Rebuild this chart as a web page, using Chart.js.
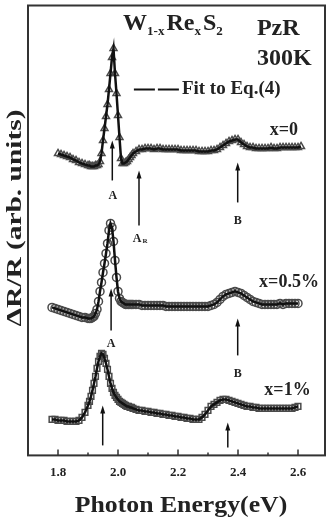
<!DOCTYPE html>
<html>
<head>
<meta charset="utf-8">
<script src="https://cdn.jsdelivr.net/npm/chart.js@4.4.1/dist/chart.umd.min.js"></script>
<style>
  body { margin: 0; background: #fff; }
  #wrap { width: 333px; height: 522px; }
</style>
</head>
<body>
<div id="wrap"><canvas id="myChart" width="333" height="522"></canvas></div>
<script>
// photon energy (eV)
var energy = [1.78, 1.79, 1.80, 1.81, 1.82, 1.83, 1.84, 1.85, 1.86, 1.87, 1.88, 1.89,
  1.90, 1.905, 1.91, 1.915, 1.92, 1.925, 1.93, 1.935, 1.94, 1.945,
  1.95, 1.955, 1.96, 1.965, 1.97, 1.975, 1.98, 1.985, 1.99, 1.995,
  2.00, 2.005, 2.01, 2.015, 2.02, 2.025, 2.03, 2.035, 2.04, 2.045, 2.05,
  2.06, 2.07, 2.08, 2.09, 2.10, 2.11, 2.12, 2.13, 2.14, 2.15,
  2.16, 2.17, 2.18, 2.19, 2.20, 2.21, 2.22, 2.23, 2.24, 2.25,
  2.26, 2.27, 2.28, 2.29, 2.30, 2.31, 2.32, 2.33, 2.34, 2.35,
  2.36, 2.37, 2.38, 2.39, 2.40, 2.41, 2.42, 2.43, 2.44, 2.45,
  2.46, 2.47, 2.48, 2.49, 2.50, 2.51, 2.52, 2.53, 2.54, 2.55,
  2.56, 2.57, 2.58, 2.59, 2.60, 2.61];

// dR/R (arb. units, stacked) for x=0, x=0.5%, x=1%
var x0 = [null, null, 304, 303, 302, 301, 300, 298, 297, 295, 294, 293,
  292, 292, 291, 291, 291, 292, 292, 293, 296, 304,
  317, 329, 341, 353, 368, 384, 400, 409, 384, 364,
  342, 320, 299, 294, 294, 295, 296, 298, 300, 302, 304,
  306, 308, 308, 309, 309, 309, 308, 309, 309, 308,
  308, 308, 308, 308, 308, 307, 307, 307, 307, 307,
  307, 306, 306, 306, 306, 307, 307, 308, 310, 312,
  314, 316, 317, 318, 318, 315, 313, 311, 310, 310,
  309, 309, 309, 309, 309, 310, 309, 309, 310, 310,
  310, 310, 310, 310, 310, 311];

var x05 = [150, 149, 148, 147, 146, 145, 144, 143, 142, 141, 140, 140,
  139, 139, 139, 140, 141, 144, 148, 156, 166, 175,
  185, 194, 204, 214, 227, 234, 230, 216, 197, 180,
  166, 159, 156, 155, 154, 153, 153, 153, 153, 153, 153,
  153, 153, 152, 152, 152, 152, 152, 152, 152, 152,
  151, 151, 151, 151, 151, 151, 151, 151, 151, 151,
  151, 151, 151, 151, 151, 152, 153, 155, 158, 161,
  163, 164, 165, 166, 165, 164, 162, 160, 158, 156,
  155, 154, 153, 153, 153, 153, 153, 153, 154, 153,
  154, 154, 154, 154, 154, null];

var x1 = [38, 38, 37, 37, 37, 36, 36, 36, 36, 37, 40, 45,
  52, 56, 61, 67, 74, 81, 89, 96, 101, 104,
  103, 99, 94, 88, 81, 74, 69, 65, 62, 60,
  58, 56, 55, 54, 53, 52, 51, 51, 50, 50, 49,
  48, 47, 47, 46, 46, 45, 45, 44, 44, 43,
  43, 42, 42, 41, 41, 40, 40, 39, 39, 38,
  38, 38, 40, 43, 47, 51, 53, 55, 57, 58,
  58, 57, 56, 55, 54, 53, 52, 51, 51, 50,
  50, 49, 49, 49, 49, 49, 49, 49, 49, 49,
  49, 49, 49, 50, 51, null];

var xTicks = [1.8, 2.0, 2.2, 2.4, 2.6];
var xMinorTicks = [1.9, 2.1, 2.3, 2.5];

// arrows: [energy, from, to]
var arrows = [[1.981, 277, 317], [2.07, 232, 287], [2.399, 255, 295],
  [1.977, 127, 169], [2.399, 102, 139],
  [1.949, 12, 52], [2.366, 10, 35]];
// peak labels: [text, subscript, energy, value]
var peakLabels = [['A', '', 1.983, 262], ['A', 'R', 2.07, 219], ['B', '', 2.399, 237],
  ['A', '', 1.977, 114], ['B', '', 2.399, 84]];
var curveLabels = [['x=0', 2.553, 322], ['x=0.5%', 2.57, 170], ['x=1%', 2.565, 62]];

var serif = '"Liberation Serif", "Times New Roman", serif';

function pts(vals) {
    var out = [];
    for (var i = 0; i < energy.length; i++) {
        out.push({x: energy[i], y: vals[i]});
    }
    return out;
}

// draws text stretched along its baseline
function stretchText(ctx, txt, x, y, sx, rot) {
    ctx.save();
    ctx.translate(x, y);
    if (rot) ctx.rotate(rot);
    ctx.scale(sx, 1);
    ctx.fillText(txt, 0, 0);
    ctx.restore();
}

var overlay = {
    id: 'overlay',
    afterDatasetsDraw: function(chart) {
        var ctx = chart.ctx, a = chart.chartArea;
        var xs = chart.scales.x, ys = chart.scales.y;
        ctx.save();
        // frame
        ctx.strokeStyle = '#333';
        ctx.lineWidth = 2;
        ctx.strokeRect(a.left, a.top, a.right - a.left, a.bottom - a.top);
        // inward ticks
        ctx.lineWidth = 1.5;
        ctx.beginPath();
        xTicks.forEach(function(t) {
            var px = xs.getPixelForValue(t);
            ctx.moveTo(px, a.bottom); ctx.lineTo(px, a.bottom - 6);
        });
        xMinorTicks.forEach(function(t) {
            var px = xs.getPixelForValue(t);
            ctx.moveTo(px, a.bottom); ctx.lineTo(px, a.bottom - 3);
        });
        ctx.stroke();

        // arrows
        ctx.strokeStyle = '#111';
        ctx.fillStyle = '#111';
        ctx.lineWidth = 1.5;
        arrows.forEach(function(ar) {
            var px = xs.getPixelForValue(ar[0]);
            var y1 = ys.getPixelForValue(ar[1]), y2 = ys.getPixelForValue(ar[2]);
            ctx.beginPath();
            ctx.moveTo(px, y1); ctx.lineTo(px, y2 + 6);
            ctx.stroke();
            ctx.beginPath();
            ctx.moveTo(px, y2); ctx.lineTo(px - 2.5, y2 + 8); ctx.lineTo(px + 2.5, y2 + 8);
            ctx.closePath();
            ctx.fill();
        });

        ctx.fillStyle = '#222';
        ctx.textBaseline = 'middle';
        ctx.textAlign = 'center';
        peakLabels.forEach(function(l) {
            var px = xs.getPixelForValue(l[2]), py = ys.getPixelForValue(l[3]);
            ctx.font = 'bold 12px ' + serif;
            if (l[1]) {
                ctx.fillText(l[0], px - 2, py);
                ctx.font = 'bold 7px ' + serif;
                ctx.fillText(l[1], px + 6, py + 3);
            } else {
                ctx.fillText(l[0], px, py);
            }
        });

        ctx.textBaseline = 'alphabetic';
        ctx.font = 'bold 18px ' + serif;
        curveLabels.forEach(function(l) {
            ctx.fillText(l[0], xs.getPixelForValue(l[1]), ys.getPixelForValue(l[2]));
        });

        // title W1-xRexS2
        ctx.textAlign = 'left';
        var tx = xs.getPixelForValue(2.017), ty = ys.getPixelForValue(427);
        var parts = [['W', 0], ['1-x', 1], ['Re', 0], ['x', 1], ['S', 0], ['2', 1]];
        parts.forEach(function(p) {
            ctx.font = p[1] ? 'bold 13px ' + serif : 'bold 24px ' + serif;
            ctx.fillText(p[0], tx, ty + (p[1] ? 5 : 0));
            tx += ctx.measureText(p[0]).width + (p[1] ? 2 : 0);
        });
        ctx.font = 'bold 24px ' + serif;
        ctx.fillText('PzR', xs.getPixelForValue(2.463), ys.getPixelForValue(422));
        ctx.fillText('300K', xs.getPixelForValue(2.463), ys.getPixelForValue(392));

        // legend
        var ly = ys.getPixelForValue(368);
        ctx.strokeStyle = '#111';
        ctx.lineWidth = 2;
        ctx.setLineDash([21, 3]);
        ctx.beginPath();
        ctx.moveTo(xs.getPixelForValue(2.053), ly);
        ctx.lineTo(xs.getPixelForValue(2.207), ly);
        ctx.stroke();
        ctx.setLineDash([]);
        ctx.font = 'bold 19px ' + serif;
        ctx.textBaseline = 'middle';
        ctx.fillText('Fit to Eq.(4)', xs.getPixelForValue(2.213), ly);

        // axis titles
        ctx.textAlign = 'center';
        ctx.textBaseline = 'alphabetic';
        ctx.font = 'bold 23px ' + serif;
        stretchText(ctx, 'Photon Energy(eV)', 181, 512, 1.12, 0);
        ctx.textBaseline = 'middle';
        ctx.font = 'bold 21px ' + serif;
        stretchText(ctx, 'ΔR/R (arb. units)', 16, 218, 1.4, -Math.PI / 2);
        ctx.restore();
    }
};

var markerStyle = {
    showLine: false,
    pointRadius: 4,
    pointBorderWidth: 1.5,
    pointBorderColor: '#4a4a4a',
    pointBackgroundColor: 'rgba(255,255,255,0)',
    order: 2
};
var fitStyle = {
    showLine: true,
    pointRadius: 0,
    borderColor: '#111',
    borderWidth: 2.5,
    tension: 0,
    spanGaps: false,
    order: 1
};

var ctx = document.getElementById("myChart").getContext("2d");
var chart = new Chart(ctx, {
    type: 'scatter',
    data: {
        datasets: [
            Object.assign({label: 'x=0', data: pts(x0), pointStyle: 'triangle'}, markerStyle),
            Object.assign({label: 'x=0.5%', data: pts(x05), pointStyle: 'circle'}, markerStyle),
            Object.assign({label: 'x=1%', data: pts(x1), pointStyle: 'rect'}, markerStyle),
            Object.assign({label: 'fit x=0', data: pts(x0)}, fitStyle),
            Object.assign({label: 'fit x=0.5%', data: pts(x05)}, fitStyle),
            Object.assign({label: 'fit x=1%', data: pts(x1)}, fitStyle)
        ]
    },
    options: {
        responsive: false,
        animation: false,
        devicePixelRatio: 1,
        layout: {padding: {left: 28, top: 5, right: 8, bottom: 33}},
        plugins: {legend: {display: false}, tooltip: {enabled: false}},
        scales: {
            x: {
                type: 'linear',
                min: 1.70,
                max: 2.69,
                afterBuildTicks: function(s) {
                    s.ticks = xTicks.map(function(v) { return {value: v}; });
                },
                grid: {display: false, drawTicks: false},
                border: {display: false},
                ticks: {
                    padding: 9,
                    color: '#222',
                    font: {family: serif, size: 13, weight: 'bold'},
                    callback: function(v) { return v.toFixed(1); }
                }
            },
            y: {
                display: false,
                min: 2,
                max: 452
            }
        }
    },
    plugins: [overlay]
});
</script>
</body>
</html>
